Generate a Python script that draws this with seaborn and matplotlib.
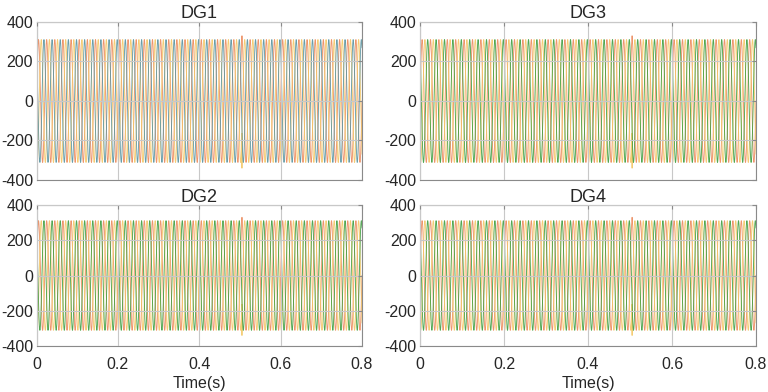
import numpy as np
import pandas as pd
import seaborn as sns
import matplotlib.pyplot as plt

# values
units = ["DG1", "DG2", "DG3", "DG4"]
amplitude = 311.0          # peak phase voltage (V)
freq = 50.0                # Hz
phase_deg = [0, -120, 120]
t_end = 0.8
fs = 10000                 # samples per second
spike_t = 0.505            # small transient seen near 0.5 s
spike_vals = [330, -340, None]
xticks = [0, 0.2, 0.4, 0.6, 0.8]
xticklabels = ["0", "0.2", "0.4", "0.6", "0.8"]
yticks = [-400, -200, 0, 200, 400]
phase_colors = {
    "DG1": ["#EC8A5C", "#F3C766", "#5A94A0"],
    "DG2": ["#EC8A5C", "#F3C766", "#3F9E3F"],
    "DG3": ["#EC8A5C", "#F3C766", "#3F9E3F"],
    "DG4": ["#EC8A5C", "#F3C766", "#3F9E3F"],
}

t = np.arange(0, t_end + 1 / fs, 1 / fs)
frames = []
for u in units:
    for k, ph in enumerate(phase_deg):
        v = amplitude * np.sin(2 * np.pi * freq * t + np.deg2rad(ph))
        if spike_vals[k] is not None:
            v[np.argmin(np.abs(t - spike_t))] = spike_vals[k]
        frames.append(pd.DataFrame({"unit": u, "phase": "abc"[k], "t": t, "v": v}))
df = pd.concat(frames, ignore_index=True)

sns.set_style("white")
plt.rcParams["font.family"] = ["Liberation Sans", "DejaVu Sans"]
plt.rcParams["axes.unicode_minus"] = False

fig = plt.figure(figsize=(7.68, 3.92), dpi=100)
W, H = 768, 392
boxes = {
    "DG1": (36.5, 22, 362, 180),
    "DG3": (420, 22, 756, 180),
    "DG2": (36.5, 205, 362, 346),
    "DG4": (420, 205, 756, 346),
}

for u in units:
    x0, y0, x1, y1 = boxes[u]
    ax = fig.add_axes([x0 / W, 1 - y1 / H, (x1 - x0) / W, (y1 - y0) / H])
    sub = df[df["unit"] == u]
    sns.lineplot(data=sub, x="t", y="v", hue="phase", palette=phase_colors[u],
                 estimator=None, sort=False, linewidth=0.65, alpha=0.9,
                 legend=False, ax=ax)
    ax.set_xlim(0, t_end)
    ax.set_ylim(-400, 400)
    ax.set_xticks(xticks)
    ax.set_yticks(yticks)
    ax.grid(True, color="#c8c8c8", linewidth=0.8)
    ax.set_axisbelow(False)
    for s in ax.spines.values():
        s.set_color("#8a8a8a")
        s.set_linewidth(0.8)
    ax.tick_params(direction="in", length=3, color="#8a8a8a", labelsize=11.5,
                   top=True, right=True)
    ax.tick_params(axis="y", pad=2.5)
    ax.tick_params(axis="x", pad=8)
    ax.set_title(u, fontsize=13, pad=2)
    ax.set_ylabel("")
    if u in ("DG2", "DG4"):
        ax.set_xticklabels(xticklabels)
        ax.set_xlabel("Time(s)", fontsize=11.5, labelpad=3)
    else:
        ax.set_xticklabels([])
        ax.set_xlabel("")

fig.savefig("out.png", dpi=100)
